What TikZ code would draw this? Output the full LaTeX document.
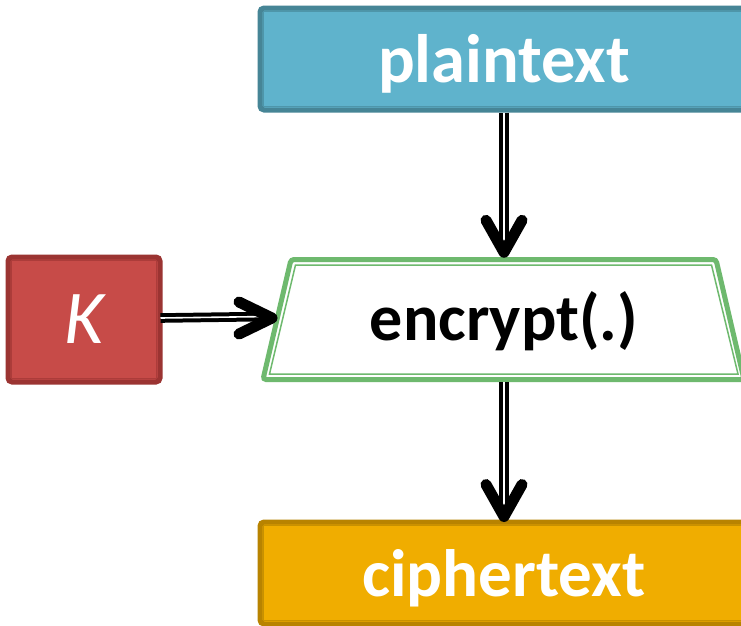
\documentclass[tikz,border=0pt]{standalone}
\usepackage{fontspec}
\setmainfont{Carlito}
\usetikzlibrary{calc}
\definecolor{ptfill}{RGB}{95,179,204}
\definecolor{ptline}{RGB}{70,133,150}
\definecolor{ptinner}{RGB}{78,150,170}
\definecolor{kfill}{RGB}{199,75,72}
\definecolor{kline}{RGB}{155,52,50}
\definecolor{kinner}{RGB}{172,60,58}
\definecolor{ctfill}{RGB}{240,173,0}
\definecolor{ctline}{RGB}{184,131,0}
\definecolor{ctinner}{RGB}{200,145,0}
\definecolor{encgreen}{RGB}{110,185,110}
\tikzset{
  x=1pt, y=-1pt,
  boxnode/.style={rectangle, rounded corners=4pt, line width=5pt, inner sep=0pt,
    text=white, font=\bfseries\fontsize{67}{67}\selectfont},
  shaft/.style={draw=black, line width=4pt, double=white, double distance=1.6pt},
  chev/.style={draw=black, line width=11pt, line cap=round, line join=round},
}
\begin{document}
\begin{tikzpicture}
\useasboundingbox (0,0) rectangle (741,625);
\clip (0,0) rectangle (741,625);
\fill[white] (0,0) rectangle (741,625);

% plaintext
\node[boxnode, fill=ptfill, draw=ptline, minimum width=488pt, minimum height=102pt,
  text height=50pt, text depth=4pt, font=\bfseries\fontsize{68.5}{68}\selectfont] (pt) at (504,59) {plaintext};
\draw[ptinner, line width=1.2pt] ([shift={(6,6)}]pt.north west) rectangle ([shift={(-6,-6)}]pt.south east);

% ciphertext
\node[boxnode, fill=ctfill, draw=ctline, minimum width=488pt, minimum height=102pt,
  text height=50pt, text depth=4pt] (ct) at (504,573) {ciphertext};
\draw[ctinner, line width=1.2pt] ([shift={(6,6)}]ct.north west) rectangle ([shift={(-6,-6)}]ct.south east);

% K
\node[boxnode, fill=kfill, draw=kline, minimum width=152pt, minimum height=125pt,
  text height=51pt, text depth=4pt, font=\itshape\fontsize{76}{76}\selectfont] (k) at (84,319.5) {K};
\draw[kinner, line width=1.2pt] ([shift={(6,6)}]k.north west) rectangle ([shift={(-6,-6)}]k.south east);

% encrypt trapezoid
\draw[encgreen, line width=5pt, fill=white, rounded corners=3pt]
  (291,259.5) -- (716,259.5) -- (744,379.5) -- (263,379.5) -- cycle;
\draw[encgreen, line width=1.5pt]
  (295.5,265) -- (711.5,265) -- (738,374) -- (269.5,374) -- cycle;
\node[inner sep=0pt, minimum width=430pt, minimum height=125pt,
  text height=46pt, text depth=5pt, font=\bfseries\fontsize{66}{66}\selectfont] (enc) at (504,319.5) {encrypt(.)};
\coordinate (encL) at (272,318);

% arrows
\coordinate (t1) at ($(enc.north)+(0,-4.5)$);
\draw[shaft] (pt.south) -- ($(t1)+(0,-3)$);
\draw[chev] ($(t1)+(-18,-32)$) -- (t1) -- ($(t1)+(18,-32)$);

\coordinate (t2) at ($(ct.north)+(0,-3)$);
\draw[shaft] (enc.south) -- ($(t2)+(0,-3)$);
\draw[chev] ($(t2)+(-18,-32)$) -- (t2) -- ($(t2)+(18,-32)$);

\draw[shaft] ($(k.east)+(-2,-1.5)$) -- ($(encL)+(-4,-1.5)$);
\draw[chev] ($(encL)+(-33,-16)$) -- (encL) -- ($(encL)+(-33,16)$);
\end{tikzpicture}
\end{document}
